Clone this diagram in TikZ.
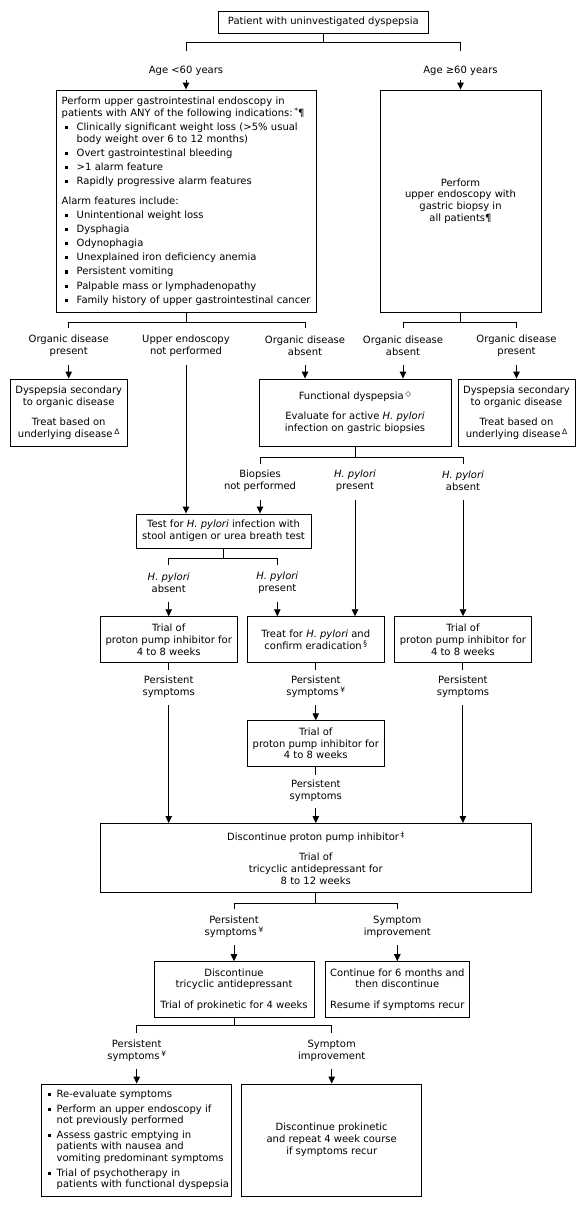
\documentclass[tikz,border=0pt]{standalone}
\usepackage{fontspec}
\setmainfont{DejaVu Sans}
\usetikzlibrary{arrows.meta}
\newcommand{\fnm}[1]{\,\raisebox{3pt}{\fontsize{7.5}{7.5}\selectfont #1}}
\newcommand{\bulA}{\makebox[15pt][l]{\hspace{3.3pt}\raisebox{1.4pt}{\rule{3.1pt}{3.1pt}}}}
\newcommand{\indA}{\hspace*{15pt}}
\newcommand{\bulB}{\makebox[10pt][l]{\hspace{1pt}\raisebox{1.4pt}{\rule{3.1pt}{3.1pt}}}}
\newcommand{\indB}{\hspace*{10pt}}
\tikzset{
  box/.style={draw, line width=0.9pt, inner sep=0pt, align=center, font=\fontsize{10}{11.8}\selectfont},
  lbl/.style={inner sep=0pt, align=center, font=\fontsize{10}{11.8}\selectfont},
  ln/.style={draw, line width=0.9pt},
  arr/.style={draw, line width=0.9pt, -{Triangle[length=7pt,width=6.5pt]}}
}
\begin{document}
\begin{tikzpicture}[x=1pt,y=-1pt]
\useasboundingbox (0,0) rectangle (585,1207);

% ---- top ----
\node[box, minimum width=210pt, minimum height=22pt] (start) at (323.3,22) {Patient with uninvestigated dyspepsia};
\coordinate (j0) at (323.3,42);
\coordinate (j0a) at (186,42);
\coordinate (j0b) at (460.5,42);
\coordinate (d0a) at (186,51.5);
\coordinate (d0b) at (460.5,51.5);
\draw[ln] (start) -- (j0);
\draw[ln] (d0a) -- (j0a) -- (j0b) -- (d0b);
\node[lbl] (age1) at (186,71) {Age <60 years};
\node[lbl] (age2) at (460.5,71) {Age ≥60 years};
\coordinate (sA1) at (186,80);
\coordinate (sA2) at (460.5,80);

% ---- row B ----
\node[box, minimum width=260pt, minimum height=222pt, text width=248.6pt, align=left, inner xsep=5.7pt] (l1) at (186,201) {%
\mbox{Perform upper gastrointestinal endoscopy in}\\
\mbox{patients with ANY of the following indications:\fnm{*}¶}\\[2.3pt]
\mbox{\bulA Clinically significant weight loss (>5\% usual}\\
\mbox{\indA body weight over 6 to 12 months)}\\[2.3pt]
\mbox{\bulA Overt gastrointestinal bleeding}\\[2.3pt]
\mbox{\bulA >1 alarm feature}\\[2.3pt]
\mbox{\bulA Rapidly progressive alarm features}\\[8.2pt]
\mbox{Alarm features include:}\\[2.3pt]
\mbox{\bulA Unintentional weight loss}\\[2.3pt]
\mbox{\bulA Dysphagia}\\[2.3pt]
\mbox{\bulA Odynophagia}\\[2.3pt]
\mbox{\bulA Unexplained iron deficiency anemia}\\[2.3pt]
\mbox{\bulA Persistent vomiting}\\[2.3pt]
\mbox{\bulA Palpable mass or lymphadenopathy}\\[2.3pt]
\mbox{\bulA Family history of upper gastrointestinal cancer}};
\node[box, minimum width=161pt, minimum height=222pt] (r1) at (460.5,201) {Perform\\upper endoscopy with\\gastric biopsy in\\all patients¶};
\draw[arr] (sA1) -- (sA1 |- l1.north);
\draw[arr] (sA2) -- (sA2 |- r1.north);

\coordinate (j1) at (186,322);
\coordinate (j1a) at (68.7,322);
\coordinate (j1b) at (305,322);
\coordinate (d1a) at (68.7,328);
\coordinate (d1b) at (305,328);
\coordinate (j2) at (460.5,322);
\coordinate (j2a) at (403,322);
\coordinate (j2b) at (516.5,322);
\coordinate (d2a) at (403,328);
\coordinate (d2b) at (516.5,328);
\draw[ln] (l1) -- (j1);
\draw[ln] (d1a) -- (j1a) -- (j1b) -- (d1b);
\draw[ln] (r1) -- (j2);
\draw[ln] (d2a) -- (j2a) -- (j2b) -- (d2b);

\node[lbl] (lb1) at (68.7,345.5) {Organic disease\\present};
\node[lbl] (lb2) at (186,345.5) {Upper endoscopy\\not performed};
\node[lbl] (lb3) at (305,345.5) {Organic disease\\absent};
\node[lbl] (lb4) at (403,345.5) {Organic disease\\absent};
\node[lbl] (lb5) at (516.5,345.5) {Organic disease\\present};
\coordinate (sB1) at (68.7,365);
\coordinate (sB2) at (186,365);
\coordinate (sB3) at (305,365);
\coordinate (sB4) at (403,365);
\coordinate (sB5) at (516.5,365);

% ---- row C ----
\node[box, minimum width=116.6pt, minimum height=67.4pt] (org1) at (68.7,412.7) {Dyspepsia secondary\\to organic disease\\[8.5pt]Treat based on\\underlying disease\fnm{Δ}};
\node[box, minimum width=192pt, minimum height=67pt] (func) at (355,412.5) {Functional dyspepsia\fnm{◇}\\[8.5pt]Evaluate for active \textit{H. pylori}\\infection on gastric biopsies};
\node[box, minimum width=117pt, minimum height=67.4pt] (org2) at (516.5,412.7) {Dyspepsia secondary\\to organic disease\\[8.5pt]Treat based on\\underlying disease\fnm{Δ}};
\draw[arr] (sB1) -- (sB1 |- org1.north);
\draw[arr] (sB3) -- (sB3 |- func.north);
\draw[arr] (sB4) -- (sB4 |- func.north);
\draw[arr] (sB5) -- (sB5 |- org2.north);

\coordinate (j3) at (355,457);
\coordinate (j3a) at (260,457);
\coordinate (j3b) at (463,457);
\coordinate (d3a) at (260,464);
\coordinate (d3b) at (463,464);
\draw[ln] (func) -- (j3);
\draw[ln] (d3a) -- (j3a) -- (j3b) -- (d3b);
\node[lbl] (lc1) at (260,481) {Biopsies\\not performed};
\node[lbl] (lc2) at (355,481) {\textit{H. pylori}\\present};
\node[lbl] (lc3) at (463,481) {\textit{H. pylori}\\absent};
\coordinate (sC1) at (260,500);
\coordinate (sC2) at (355,500);
\coordinate (sC3) at (463,500);

\node[box, minimum width=175pt, minimum height=34pt] (test) at (223.5,531) {Test for \textit{H. pylori} infection with\\stool antigen or urea breath test};
\draw[arr] (sB2) -- (sB2 |- test.north);
\draw[arr] (sC1) -- (sC1 |- test.north);

\coordinate (j4) at (223.5,558);
\coordinate (j4a) at (168.7,558);
\coordinate (j4b) at (277.3,558);
\coordinate (d4a) at (168.7,565);
\coordinate (d4b) at (277.3,565);
\draw[ln] (test) -- (j4);
\draw[ln] (d4a) -- (j4a) -- (j4b) -- (d4b);
\node[lbl] (ld1) at (168.7,582.5) {\textit{H. pylori}\\absent};
\node[lbl] (ld2) at (277.3,582.5) {\textit{H. pylori}\\present};
\coordinate (sD1) at (168.7,601.5);
\coordinate (sD2) at (277.3,601.5);

% ---- row D ----
\node[box, minimum width=137.3pt, minimum height=45.6pt] (ppi1) at (168.7,639.5) {Trial of\\proton pump inhibitor for\\4 to 8 weeks};
\node[box, minimum width=137pt, minimum height=45.6pt] (treat) at (315.8,639.5) {Treat for \textit{H. pylori} and\\confirm eradication\fnm{§}};
\node[box, minimum width=137.7pt, minimum height=45.6pt] (ppi3) at (462.9,639.5) {Trial of\\proton pump inhibitor for\\4 to 8 weeks};
\draw[arr] (sD1) -- (sD1 |- ppi1.north);
\draw[arr] (sD2) -- (sD2 |- treat.north);
\draw[arr] (sC2) -- (sC2 |- treat.north);
\draw[arr] (sC3) -- (sC3 |- ppi3.north);

\coordinate (e1) at (168.7,670);
\coordinate (e2) at (315.8,670);
\coordinate (e3) at (462.9,670);
\draw[ln] (ppi1) -- (e1);
\draw[ln] (treat) -- (e2);
\draw[ln] (ppi3) -- (e3);
\node[lbl] (le1) at (168.7,686.7) {Persistent\\symptoms};
\node[lbl] (le2) at (315.8,686.7) {Persistent\\symptoms\fnm{¥}};
\node[lbl] (le3) at (462.9,686.7) {Persistent\\symptoms};
\coordinate (sE1) at (168.7,705);
\coordinate (sE2) at (315.8,705);
\coordinate (sE3) at (462.9,705);

\node[box, minimum width=137.7pt, minimum height=45.3pt] (ppi2) at (315.8,743.4) {Trial of\\proton pump inhibitor for\\4 to 8 weeks};
\draw[arr] (sE2) -- (sE2 |- ppi2.north);
\coordinate (e4) at (315.8,775);
\draw[ln] (ppi2) -- (e4);
\node[lbl] (lf) at (315.8,790.8) {Persistent\\symptoms};
\coordinate (sF) at (315.8,808);

% ---- big box ----
\node[box, minimum width=431.7pt, minimum height=69.2pt] (big) at (315.8,858.1) {Discontinue proton pump inhibitor\fnm{‡}\\[8.5pt]Trial of\\tricyclic antidepressant for\\8 to 12 weeks};
\draw[arr] (sE1) -- (sE1 |- big.north);
\draw[arr] (sE3) -- (sE3 |- big.north);
\draw[arr] (sF) -- (sF |- big.north);

\coordinate (j5) at (315.8,903.3);
\coordinate (j5a) at (234,903.3);
\coordinate (j5b) at (397.3,903.3);
\coordinate (d5a) at (234,909);
\coordinate (d5b) at (397.3,909);
\draw[ln] (big) -- (j5);
\draw[ln] (d5a) -- (j5a) -- (j5b) -- (d5b);
\node[lbl] (lg1) at (234,927) {Persistent\\symptoms\fnm{¥}};
\node[lbl] (lg2) at (397.3,927) {Symptom\\improvement};
\coordinate (sG1) at (234,945);
\coordinate (sG2) at (397.3,945);

\node[box, minimum width=160pt, minimum height=55.3pt] (tca) at (234,989.3) {Discontinue\\tricyclic antidepressant\\[8.5pt]Trial of prokinetic for 4 weeks};
\node[box, minimum width=144pt, minimum height=55.3pt] (cont) at (397.3,989.3) {Continue for 6 months and\\then discontinue\\[8.5pt]Resume if symptoms recur};
\draw[arr] (sG1) -- (sG1 |- tca.north);
\draw[arr] (sG2) -- (sG2 |- cont.north);

\coordinate (j6) at (234,1025);
\coordinate (j6a) at (136.7,1025);
\coordinate (j6b) at (331.7,1025);
\coordinate (d6a) at (136.7,1033);
\coordinate (d6b) at (331.7,1033);
\draw[ln] (tca) -- (j6);
\draw[ln] (d6a) -- (j6a) -- (j6b) -- (d6b);
\node[lbl] (lh1) at (136.7,1050.5) {Persistent\\symptoms\fnm{¥}};
\node[lbl] (lh2) at (331.7,1050.5) {Symptom\\improvement};
\coordinate (sH1) at (136.7,1069.3);
\coordinate (sH2) at (331.7,1069.3);

\node[box, minimum width=190pt, minimum height=112pt, text width=180pt, align=left, inner xsep=5pt] (bl) at (136.7,1140) {%
\mbox{\bulB Re-evaluate symptoms}\\[2.5pt]
\mbox{\bulB Perform an upper endoscopy if}\\
\mbox{\indB not previously performed}\\[2.5pt]
\mbox{\bulB Assess gastric emptying in}\\
\mbox{\indB patients with nausea and}\\
\mbox{\indB vomiting predominant symptoms}\\[2.5pt]
\mbox{\bulB Trial of psychotherapy in}\\
\mbox{\indB patients with functional dyspepsia}};
\node[box, minimum width=180pt, minimum height=112pt] (br) at (331.7,1140) {Discontinue prokinetic\\and repeat 4 week course\\if symptoms recur};
\draw[arr] (sH1) -- (sH1 |- bl.north);
\draw[arr] (sH2) -- (sH2 |- br.north);
\end{tikzpicture}
\end{document}
